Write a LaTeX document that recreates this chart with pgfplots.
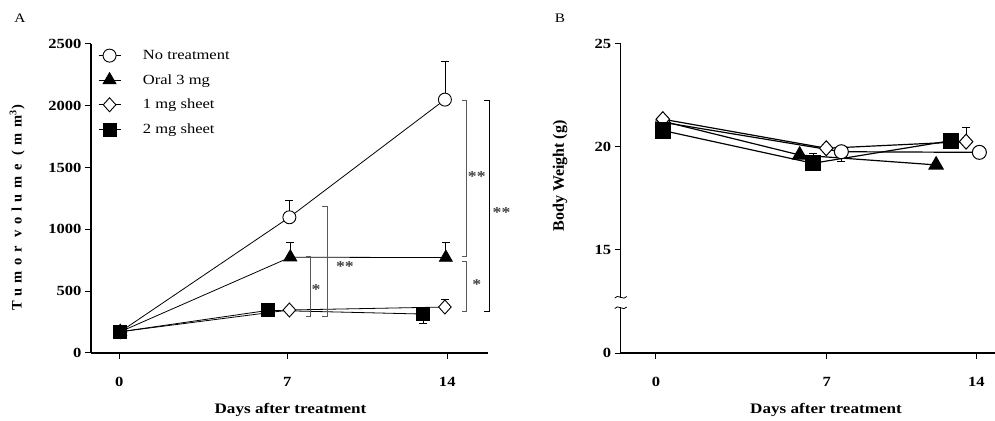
\documentclass[border=0pt]{standalone}
\usepackage{fontspec}
\setmainfont{Liberation Serif}[FakeStretch=1.18]
\newfontfamily\plainfont{Liberation Serif}
\newfontfamily\spacedfont{Liberation Serif}[LetterSpace=38]
\usepackage{pgfplots}
\pgfplotsset{compat=1.18}
\definecolor{brk}{gray}{0.35}
\definecolor{star}{gray}{0.25}
\pgfplotsset{
  myaxis/.style={
    scale only axis,
    axis x line*=bottom, axis y line*=left,
    axis line style={-, line width=1.3pt, black},
    every tick/.style={black, line width=1pt},
    tick align=outside,
    major tick length=6pt,
    minor tick num=0,
    clip=false,
    /pgf/number format/assume math mode=true,
    tick label style={font=\bfseries\fontsize{14}{14}\selectfont},
    xticklabel style={yshift=-15pt},
  },
}
\tikzset{starlab/.style={font=\bfseries\fontsize{15}{15}\selectfont, text=star, inner sep=0pt}}
\newcommand{\lblfont}{\bfseries\fontsize{14.5}{14.5}\selectfont}
\begin{document}
\begin{tikzpicture}
\useasboundingbox (0pt,0pt) rectangle (995pt,420pt);
\node[font=\fontsize{13}{13}\selectfont] at (20pt,402pt) {A};
\node[font=\fontsize{13}{13}\selectfont] at (560pt,402pt) {B};

% ---------------- Panel A ----------------
\begin{axis}[myaxis,
  at={(91pt,67pt)}, anchor=south west,
  width=397pt, height=309pt,
  xmin=-1.21, xmax=15.74, ymin=0, ymax=2500,
  xtick={0,7.17,14}, xticklabels={0,7,14},
  ytick={0,500,1000,1500,2000,2500},
  yticklabels={0,500,1000,1500,2000,2500},
  xlabel={Days after treatment},
  ylabel={Tumor volume (mm\textsuperscript{3})},
  every axis x label/.style={at={(axis description cs:0.5025,-0.184)}, anchor=center, font=\lblfont},
  every axis y label/.style={at={(axis description cs:-0.186,0.47)}, rotate=90, anchor=center,
     font=\spacedfont\bfseries\fontsize{14.5}{14.5}\selectfont},
  legend style={draw=none, fill=none, at={(axis description cs:0.015,0.99)}, anchor=north west,
    font=\fontsize{14}{14}\selectfont, row sep=9.5pt, column sep=20pt, inner sep=1pt},
  legend cell align=left,
  legend image code/.code={
    \draw[#1, mark=none] (0pt,0pt) -- (22pt,0pt);
    \draw[#1, only marks] plot coordinates {(11pt,0pt)};
  },
]
% error bars (drawn first, markers cover stems)
\addplot[forget plot, only marks, mark=none,
  error bars/.cd, y dir=both, y explicit,
  error bar style={black, line width=0.8pt},
  error mark options={black, rotate=90, mark size=4pt, line width=0.8pt}]
  coordinates {
   (7.26,1098) += (0,136)
   (13.9,2050) += (0,312)
   (7.30,775) += (0,120)
   (13.94,772) += (0,122)
   (13.9,372) += (0,60)
   (12.98,315) -= (0,72)
  };
\addplot[black, line width=0.8pt, mark=*, mark size=6.5pt,
  mark options={fill=white, draw=black, line width=0.9pt}]
  coordinates {(0.04,172) (7.26,1098) (13.9,2050)};
\addlegendentry{No treatment}
\addplot[black, line width=0.8pt, mark=triangle*, mark size=7.5pt,
  mark options={fill=black, draw=black}]
  coordinates {(0.04,172) (7.30,775) (13.94,772)};
\addlegendentry{Oral 3 mg}
\addplot[black, line width=0.8pt, mark=diamond*, mark size=7pt,
  mark options={fill=white, draw=black, line width=0.9pt, xscale=1.2}]
  coordinates {(0.04,172) (7.26,348) (13.9,372)};
\addlegendentry{1 mg sheet}
\addplot[black, line width=0.8pt, mark=square*, mark size=6.5pt,
  mark options={fill=black, draw=black}]
  coordinates {(0.04,172) (6.36,345) (12.98,315)};
\addlegendentry{2 mg sheet}

% significance brackets
\draw[brk, line width=0.8pt] ([xshift=-4pt]axis cs:8.14,785) -- (axis cs:8.14,785)
   -- (axis cs:8.14,300) -- ([xshift=-4pt]axis cs:8.14,300);
\node[starlab] at (axis cs:8.40,515) {*};
\draw[brk, line width=0.8pt] ([xshift=-5pt]axis cs:8.88,1184) -- (axis cs:8.88,1184)
   -- (axis cs:8.88,295) -- ([xshift=-5pt]axis cs:8.88,295);
\node[starlab] at (axis cs:9.63,698) {**};
\draw[brk, line width=0.8pt] ([xshift=-4pt]axis cs:14.8,2047) -- (axis cs:14.8,2047)
   -- (axis cs:14.8,779) -- ([xshift=-4pt]axis cs:14.8,779);
\draw[brk, line width=0.8pt] ([xshift=-4pt]axis cs:14.8,745) -- (axis cs:14.8,745)
   -- (axis cs:14.8,335) -- ([xshift=-4pt]axis cs:14.8,335);
\node[starlab] at (axis cs:15.26,1427) {**};
\node[starlab] at (axis cs:15.26,550) {*};
\draw[black, line width=0.8pt] ([xshift=-5pt]axis cs:15.78,2047) -- (axis cs:15.78,2047)
   -- (axis cs:15.78,335) -- ([xshift=-5pt]axis cs:15.78,335);
\node[starlab] at (axis cs:16.32,1135) {**};
\end{axis}

% ---------------- Panel B ----------------
\begin{axis}[myaxis,
  at={(620.7pt,67pt)}, anchor=south west,
  width=374pt, height=309pt,
  xmin=-1.54, xmax=14.8, ymin=10, ymax=25,
  xtick={0,7.46,14}, xticklabels={0,7,14},
  ytick={10,15,20,25}, yticklabels={0,15,20,25},
  xlabel={Days after treatment},
  ylabel={Body Weight (g)},
  every axis x label/.style={at={(axis description cs:0.549,-0.184)}, anchor=center, font=\lblfont},
  every axis y label/.style={at={(axis description cs:-0.162,0.573)}, rotate=90, anchor=center,
     font=\plainfont\bfseries\fontsize{16}{16}\selectfont},
]
\addplot[forget plot, only marks, mark=none,
  error bars/.cd, y dir=both, y explicit,
  error bar style={black, line width=0.8pt},
  error mark options={black, rotate=90, mark size=4pt, line width=0.8pt}]
  coordinates {
   (13.55,20.26) += (0,0.70)
   (8.10,19.77) -= (0,0.45)
   (6.86,19.21) += (0,0.50)
  };
\addplot[black, line width=1.2pt, mark=*, mark size=7pt,
  mark options={fill=white, draw=black, line width=1pt}]
  coordinates {(0.30,21.2) (8.10,19.77) (14.13,19.74)};
\addplot[black, line width=1.2pt, mark=triangle*, mark size=8pt,
  mark options={fill=black, draw=black}]
  coordinates {(0.30,21.25) (6.28,19.61) (12.24,19.13)};
\addplot[black, line width=1.2pt, mark=diamond*, mark size=7.5pt,
  mark options={fill=white, draw=black, line width=1pt, xscale=1.2}]
  coordinates {(0.30,21.35) (7.44,19.94) (13.55,20.26)};
\addplot[black, line width=1.2pt, mark=square*, mark size=7.5pt,
  mark options={fill=black, draw=black}]
  coordinates {(0.30,20.8) (6.86,19.21) (12.90,20.31)};
\coordinate (brkpt) at (axis cs:-1.54,12.45);
\end{axis}
\fill[white] ([xshift=-3pt,yshift=-4.5pt]brkpt) rectangle ([xshift=3pt,yshift=4.5pt]brkpt);
\draw[black, line width=0.8pt] ([xshift=-6pt,yshift=4.5pt]brkpt) .. controls +(3pt,5pt) and +(-3pt,-5pt) .. ([xshift=6pt,yshift=6pt]brkpt);
\draw[black, line width=0.8pt] ([xshift=-6pt,yshift=-6pt]brkpt) .. controls +(3pt,5pt) and +(-3pt,-5pt) .. ([xshift=6pt,yshift=-4.5pt]brkpt);
\end{tikzpicture}
\end{document}
